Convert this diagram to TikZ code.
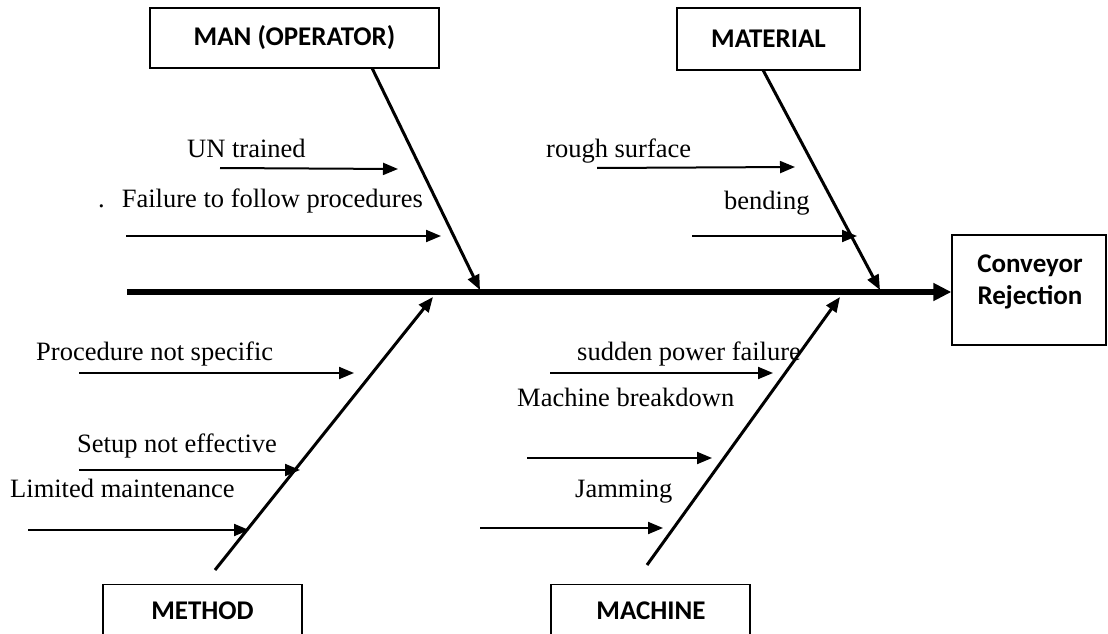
\documentclass[tikz,border=0pt]{standalone}
\usepackage{fontspec}
\setmainfont{Liberation Serif}
\newfontfamily\boxfont{Carlito}
\usetikzlibrary{arrows.meta}
\begin{document}
\begin{tikzpicture}[x=1pt,y=-1pt,
  catbox/.style={draw, line width=1.3pt, inner sep=0pt},
  boxlabel/.style={font=\boxfont\bfseries\fontsize{27}{32}\selectfont, inner sep=0pt},
  cause/.style={font=\fontsize{26.5}{30}\selectfont, anchor=base west, inner sep=0pt},
  bone/.style={line width=3pt, -{Triangle[length=15pt,width=12pt]}},
  sub/.style={line width=2pt, -{Triangle[length=15pt,width=12pt]}},
  spine/.style={line width=5.5pt, -{Triangle[length=18pt,width=17pt]}}]
\useasboundingbox (0,0) rectangle (1108,634);
\clip (0,0) rectangle (1108,634);

% category boxes
\node[catbox, boxlabel, minimum width=289pt, minimum height=60pt] (man) at (294.5,38) {MAN (OPERATOR)};
\node[catbox, boxlabel, minimum width=183pt, minimum height=62pt] (mat) at (768.5,39) {MATERIAL};
\node[catbox, minimum width=154pt, minimum height=110pt] (conv) at (1029,290) {};
\node[boxlabel, align=center] (convt) at (1030,282) {Conveyor\\Rejection};
\node[catbox, minimum width=199pt, minimum height=100pt, anchor=north] (meth) at (202.5,584) {};
\node[boxlabel] (metht) at (202.5,611) {METHOD};
\node[catbox, minimum width=199pt, minimum height=100pt, anchor=north] (mach) at (650.5,584) {};
\node[boxlabel] (macht) at (651,611) {MACHINE};

% spine
\coordinate (sL) at (127,292);
\draw[spine] (sL) -- (conv.west |- sL);

% bones
\coordinate (manS) at (372,68);   \coordinate (manT) at (480,290);
\coordinate (matS) at (763,70);   \coordinate (matT) at (880,290);
\coordinate (methS) at (215,570); \coordinate (methT) at (433,297);
\coordinate (machS) at (647,565); \coordinate (machT) at (840,297);
\draw[bone] (manS) -- (manT);
\draw[bone] (matS) -- (matT);
\draw[bone] (methS) -- (methT);
\draw[bone] (machS) -- (machT);

% causes: man
\node[cause] (c1) at (187,157) {UN trained};
\coordinate (a1) at (220,168); \coordinate (b1) at (398,169);
\draw[sub] (a1) -- (b1);
\node[cause] (c2) at (98,207) {.\hspace{17pt}Failure to follow procedures};
\coordinate (a2) at (126,236); \coordinate (b2) at (441,236);
\draw[sub] (a2) -- (b2);

% causes: material
\node[cause] (c3) at (546,157) {rough surface};
\coordinate (a3) at (597,168); \coordinate (b3) at (795,167);
\draw[sub] (a3) -- (b3);
\node[cause] (c4) at (724,209) {bending};
\coordinate (a4) at (692,236); \coordinate (b4) at (857,236);
\draw[sub] (a4) -- (b4);

% causes: method
\node[cause] (c5) at (36,360) {Procedure not specific};
\coordinate (a5) at (79,373); \coordinate (b5) at (354,373);
\draw[sub] (a5) -- (b5);
\node[cause] (c6) at (77,452) {Setup not effective};
\coordinate (a6) at (79,470); \coordinate (b6) at (300,470);
\draw[sub] (a6) -- (b6);
\node[cause] (c7) at (10,497) {Limited maintenance};
\coordinate (a7) at (28,530); \coordinate (b7) at (249,530);
\draw[sub] (a7) -- (b7);

% causes: machine
\node[cause] (c8) at (577,360) {sudden power failure};
\coordinate (a8) at (550,373); \coordinate (b8) at (773,373);
\draw[sub] (a8) -- (b8);
\node[cause] (c9) at (517,406) {Machine breakdown};
\coordinate (a9) at (527,458); \coordinate (b9) at (712,458);
\draw[sub] (a9) -- (b9);
\node[cause] (c10) at (575,497) {Jamming};
\coordinate (a10) at (480,528); \coordinate (b10) at (663,528);
\draw[sub] (a10) -- (b10);
\end{tikzpicture}
\end{document}
